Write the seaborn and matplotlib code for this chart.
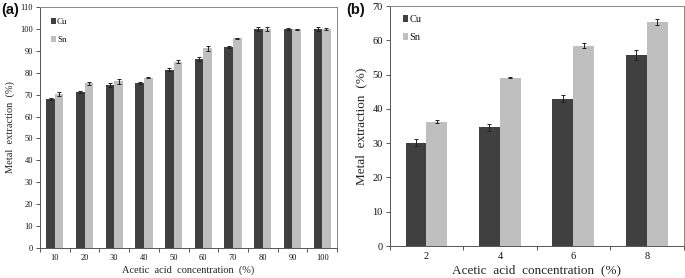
import matplotlib
matplotlib.use("Agg")
import matplotlib.pyplot as plt
import seaborn as sns
import pandas as pd
import numpy as np
from matplotlib.patches import Patch

conc_a = ["10", "20", "30", "40", "50", "60", "70", "80", "90", "100"]
cu_a = [68.0, 71.3, 74.3, 75.3, 81.4, 86.2, 91.8, 100.0, 100.0, 100.0]
sn_a = [70.2, 75.2, 76.0, 77.8, 85.1, 91.2, 95.7, 99.8, 99.8, 99.8]
cu_a_err = [0.6, 0.4, 0.8, 0.5, 0.8, 1.0, 0.6, 1.0, 0.3, 0.8]
sn_a_err = [0.8, 0.7, 1.2, 0.3, 0.7, 1.2, 0.3, 1.0, 0.3, 0.4]

conc_b = ["2", "4", "6", "8"]
cu_b = [30.2, 34.6, 43.0, 55.8]
sn_b = [36.3, 49.1, 58.5, 65.3]
cu_b_err = [1.0, 1.1, 1.0, 1.5]
sn_b_err = [0.4, 0.2, 0.7, 0.9]

metals = ["Cu", "Sn"]
colors = {"Cu": "#404040", "Sn": "#bfbfbf"}

sns.set_theme(style="white")
plt.rcParams["font.family"] = ["Liberation Serif", "DejaVu Serif"]
plt.rcParams["text.color"] = "#111111"

fig = plt.figure(figsize=(6.85, 2.78), dpi=100)
axa = fig.add_axes([0.0584, 0.108, 0.4336, 0.867])
axb = fig.add_axes([0.569, 0.115, 0.429, 0.863])


def draw(ax, cats, cu, sn, cu_err, sn_err, ymax, ystep, width, tfs, lfs,
         legfs, legspace, legpos):
    df = pd.DataFrame({
        "conc": cats * 2,
        "metal": ["Cu"] * len(cats) + ["Sn"] * len(cats),
        "val": cu + sn,
    })
    sns.barplot(data=df, x="conc", y="val", hue="metal", order=cats,
                hue_order=metals, palette=colors, width=width, ax=ax,
                errorbar=None, saturation=1, legend=False, linewidth=0)
    errs = cu_err + sn_err
    vals = cu + sn
    for p, v, e in zip(ax.patches, vals, errs):
        xc = p.get_x() + p.get_width() / 2
        ax.errorbar(xc, v, yerr=e, fmt="none", ecolor="#222222",
                    elinewidth=0.7, capsize=1.5, capthick=0.7)
    n = len(cats)
    ax.set_xlim(-0.5, n - 0.5)
    ax.set_ylim(0, ymax)
    ax.set_yticks(np.arange(0, ymax + 1, ystep))
    ax.set_xticks(np.arange(-0.5, n, 1.0), minor=True)
    ax.tick_params(axis="x", which="major", length=0, labelsize=tfs, pad=4,
                   labelcolor="#111111")
    ax.tick_params(axis="x", which="minor", length=3, width=0.7,
                   direction="out", bottom=True, color="#555555")
    ax.tick_params(axis="y", length=3, width=0.7, direction="out", left=True,
                   labelsize=tfs, color="#555555", pad=2, labelcolor="#111111")
    for s in ax.spines.values():
        s.set_color("#888888")
        s.set_linewidth(0.7)
    ax.spines["left"].set_color("#555555")
    ax.spines["bottom"].set_color("#555555")
    ax.set_xlabel("Acetic  acid  concentration  (%)", fontsize=lfs, labelpad=3)
    ax.set_ylabel("Metal  extraction  (%)", fontsize=lfs, labelpad=4)
    handles = [Patch(facecolor=colors[m], edgecolor="none") for m in metals]
    ax.legend(handles, metals, loc="upper left", frameon=False,
              fontsize=legfs, handlelength=0.5, handleheight=0.6,
              handletextpad=0.15, labelspacing=legspace,
              bbox_to_anchor=legpos, borderaxespad=0)


draw(axa, conc_a, cu_a, sn_a, cu_a_err, sn_a_err, 110, 10, 0.58, 6, 7.5,
     6.5, 1.1, (0.025, 0.97))
draw(axb, conc_b, cu_b, sn_b, cu_b_err, sn_b_err, 70, 10, 0.57, 7.5, 9.5,
     7.5, 0.9, (0.03, 0.98))

fig.text(0.002, 0.99, "(a)", fontsize=10.5, fontweight="bold",
         family="Liberation Sans", va="top", ha="left")
fig.text(0.505, 0.99, "(b)", fontsize=10.5, fontweight="bold",
         family="Liberation Sans", va="top", ha="left")

fig.savefig("out.png", dpi=100)
